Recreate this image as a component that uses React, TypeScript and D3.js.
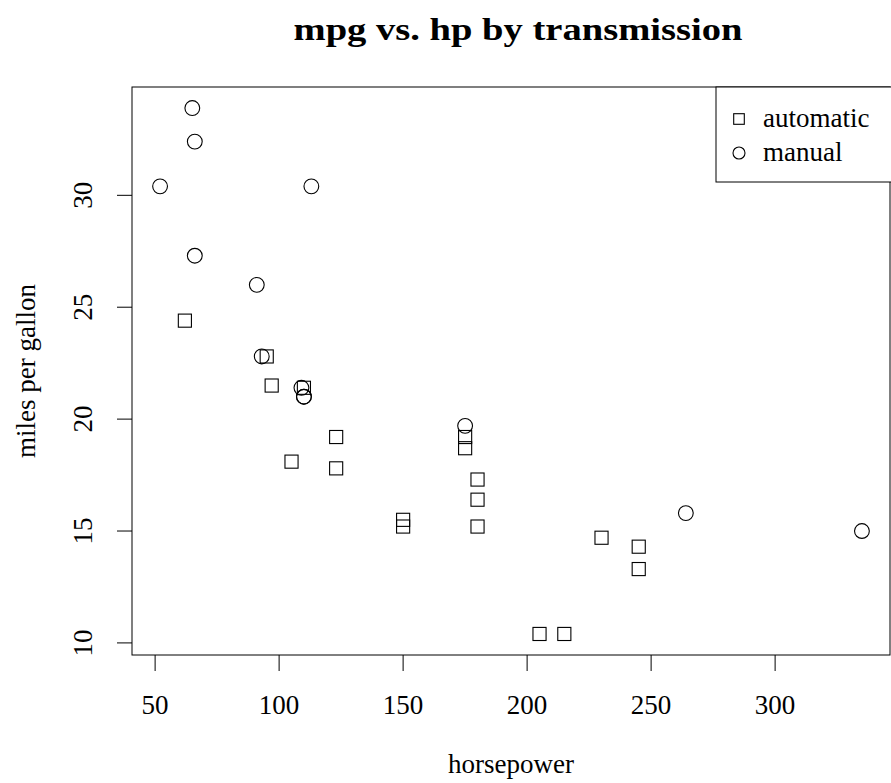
import React from "react";
import * as d3 from "d3";

const hpAuto = [110, 175, 105, 245, 62, 95, 123, 123, 180, 180, 180, 205, 215, 230, 97, 150, 150, 245, 175];
const mpgAuto = [21.4, 18.7, 18.1, 14.3, 24.4, 22.8, 19.2, 17.8, 16.4, 17.3, 15.2, 10.4, 10.4, 14.7, 21.5, 15.5, 15.2, 13.3, 19.2];
const hpManual = [110, 110, 93, 66, 52, 65, 66, 91, 113, 264, 175, 335, 109];
const mpgManual = [21.0, 21.0, 22.8, 32.4, 30.4, 33.9, 27.3, 26.0, 30.4, 15.8, 19.7, 15.0, 21.4];
const xTicks = [50, 100, 150, 200, 250, 300];
const yTicks = [10, 15, 20, 25, 30];
const legendLabels = ["automatic", "manual"];

const W = 891;
const H = 783;
const L = 132, R = 890, T = 87, B = 655;
const font = "'Liberation Serif', 'DejaVu Serif', serif";

export default function App() {
  const allHp = [...hpAuto, ...hpManual];
  const allMpg = [...mpgAuto, ...mpgManual];
  const [hx0, hx1] = d3.extent(allHp) as [number, number];
  const [my0, my1] = d3.extent(allMpg) as [number, number];
  const px = (hx1 - hx0) * 0.04;
  const py = (my1 - my0) * 0.04;
  const x = d3.scaleLinear().domain([hx0 - px, hx1 + px]).range([L, R]);
  const y = d3.scaleLinear().domain([my0 - py, my1 + py]).range([B, T]);
  const r = 7.4;
  const sq = 13.1;
  const lr = 6;
  const lsq = 10.6;
  const legX = 716;
  const legB = 182;
  const symX = 739;
  const rowY = [119, 153];

  return (
    <svg width={W} height={H} style={{ position: "absolute", left: 0, top: 0, background: "#fff" }} fontFamily={font}>
      <rect x={0} y={0} width={W} height={H} fill="#fff" />
      <text x={518} y={40} textAnchor="middle" fontWeight="bold" fontSize={31} textLength={449} lengthAdjust="spacingAndGlyphs">
        mpg vs. hp by transmission
      </text>
      <rect x={L} y={T} width={R - L} height={B - T} fill="none" stroke="#000" strokeWidth={1} />
      {xTicks.map((t) => (
        <g key={"x" + t}>
          <line x1={x(t)} x2={x(t)} y1={B} y2={B + 16} stroke="#000" />
          <text x={x(t)} y={714} textAnchor="middle" fontSize={27}>{t}</text>
        </g>
      ))}
      {yTicks.map((t) => (
        <g key={"y" + t}>
          <line x1={L} x2={L - 15} y1={y(t)} y2={y(t)} stroke="#000" />
          <text transform={`translate(92,${y(t)}) rotate(-90)`} textAnchor="middle" fontSize={27}>{t}</text>
        </g>
      ))}
      <text x={(L + R) / 2} y={773} textAnchor="middle" fontSize={27}>horsepower</text>
      <text transform={`translate(35,${(T + B) / 2}) rotate(-90)`} textAnchor="middle" fontSize={27}>miles per gallon</text>
      {hpAuto.map((h, i) => (
        <rect key={"a" + i} x={x(h) - sq / 2} y={y(mpgAuto[i]) - sq / 2} width={sq} height={sq} fill="none" stroke="#000" strokeWidth={1.1} />
      ))}
      {hpManual.map((h, i) => (
        <circle key={"m" + i} cx={x(h)} cy={y(mpgManual[i])} r={r} fill="none" stroke="#000" strokeWidth={1.1} />
      ))}
      <rect x={legX} y={T} width={R - legX + 5} height={legB - T} fill="#fff" stroke="#000" strokeWidth={1} />
      <rect x={symX - lsq / 2} y={rowY[0] - lsq / 2} width={lsq} height={lsq} fill="none" stroke="#000" strokeWidth={1.1} />
      <circle cx={symX} cy={rowY[1]} r={lr} fill="none" stroke="#000" strokeWidth={1.1} />
      {legendLabels.map((lab, i) => (
        <text key={lab} x={763} y={rowY[i] + 8} fontSize={27}>{lab}</text>
      ))}
    </svg>
  );
}
